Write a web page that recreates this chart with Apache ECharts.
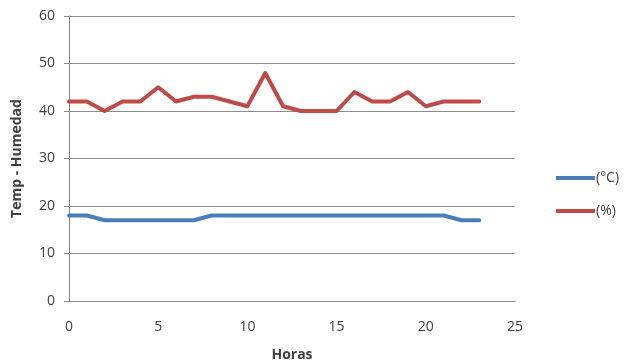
<!DOCTYPE html>
<html><head><meta charset="utf-8">
<script src="https://cdn.jsdelivr.net/npm/echarts@6/dist/echarts.min.js"></script>
<style>html,body{margin:0;padding:0;background:#fff}#c{width:628px;height:362px}</style>
</head><body><div id="c"></div>
<script>
const hours = [0,1,2,3,4,5,6,7,8,9,10,11,12,13,14,15,16,17,18,19,20,21,22,23];
const tempC = [18,18,17,17,17,17,17,17,18,18,18,18,18,18,18,18,18,18,18,18,18,18,17,17];
const humPct = [42,42,40,42,42,45,42,43,43,42,41,48,41,40,40,40,44,42,42,44,41,42,42,42];
const seriesNames = ['(°C)','(%)'];
const font = '"Open Sans", "Liberation Sans", sans-serif';
const chart = echarts.init(document.getElementById('c'));
chart.setOption({
  animation:false,
  textStyle:{fontFamily:font},
  grid:{left:69,right:113,top:16,bottom:61,containLabel:false,outerBoundsMode:'none'},
  legend:{orient:'vertical',left:551,top:166,itemWidth:39,itemHeight:4,itemGap:19,icon:'rect',
    textStyle:{fontSize:14,color:'#404040',fontFamily:font,padding:[0,0,0,-4]},data:seriesNames},
  xAxis:{type:'value',min:0,max:25,interval:5,name:'Horas',nameLocation:'middle',nameGap:47,
    nameTextStyle:{fontWeight:'bold',fontSize:14,color:'#404040'},
    axisLine:{lineStyle:{color:'#888'}},axisTick:{show:false},splitLine:{show:false},
    axisLabel:{color:'#404040',fontSize:14,margin:19}},
  yAxis:{type:'value',min:0,max:60,interval:10,name:'Temp - Humedad',nameLocation:'middle',nameGap:45,
    nameTextStyle:{fontWeight:'bold',fontSize:14,color:'#404040'},
    axisLine:{show:true,lineStyle:{color:'#888'}},axisTick:{show:true,length:5,lineStyle:{color:'#888'}},
    splitLine:{lineStyle:{color:'#8c8c8c'}},
    axisLabel:{color:'#404040',fontSize:14,margin:14}},
  series:[
    {name:seriesNames[0],type:'line',showSymbol:false,symbol:'none',color:'#4a7ebb',
     lineStyle:{width:4,join:'round',cap:'round'},data:hours.map((h,i)=>[h,tempC[i]])},
    {name:seriesNames[1],type:'line',showSymbol:false,symbol:'none',color:'#be4b48',
     lineStyle:{width:4,join:'round',cap:'round'},data:hours.map((h,i)=>[h,humPct[i]])}
  ]
});
</script></body></html>
